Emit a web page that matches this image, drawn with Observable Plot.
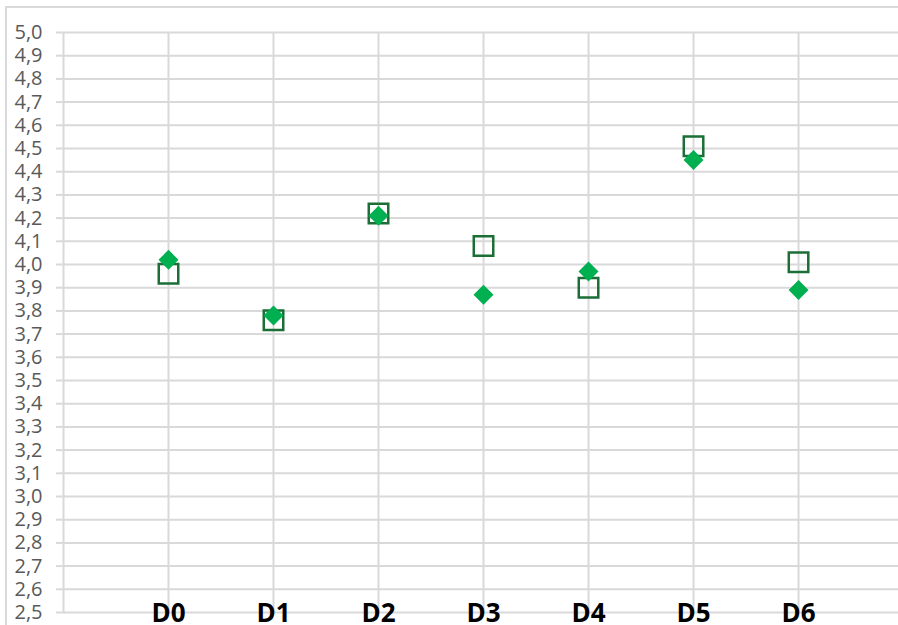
<!DOCTYPE html>
<html>
<head>
<meta charset="utf-8">
<script src="https://cdn.jsdelivr.net/npm/d3@7"></script>
<script src="https://cdn.jsdelivr.net/npm/@observablehq/plot@0.6"></script>
<style>
  html, body { margin: 0; padding: 0; background: #fff; overflow: hidden; }
  #wrap { position: relative; width: 898px; height: 625px; }
  #frame { position: absolute; left: 5px; top: 6px; width: 900px; height: 630px;
           border-left: 2px solid #d9d9d9; border-top: 2px solid #d9d9d9; box-sizing: border-box; }
  #chart { position: absolute; left: 0; top: 0; }
</style>
</head>
<body>
<div id="wrap"><div id="frame"></div><div id="chart"></div></div>
<script>
const categories = ["D0", "D1", "D2", "D3", "D4", "D5", "D6"];
const squareValues = [3.96, 3.76, 4.22, 4.08, 3.90, 4.51, 4.01];
const diamondValues = [4.02, 3.78, 4.21, 3.87, 3.97, 4.45, 3.89];
const yTicks = d3.range(25, 51).map(d => d / 10);
const xGrid = [0, 1, 2, 3, 4, 5, 6, 7];

const squares = categories.map((c, i) => ({pos: i + 1, value: squareValues[i]}));
const diamonds = categories.map((c, i) => ({pos: i + 1, value: diamondValues[i]}));
const labels = categories.map((c, i) => ({pos: i + 1, label: c}));

const fmt = d => d.toFixed(1).replace(".", ",");

const chart = Plot.plot({
  width: 898,
  height: 625,
  marginLeft: 63,
  marginRight: 0,
  marginTop: 32,
  marginBottom: 13,
  style: {fontFamily: "'Open Sans', sans-serif", background: "transparent", overflow: "visible"},
  x: {domain: [0, 7.952], axis: null},
  y: {domain: [2.5, 5.0], axis: null},
  marks: [
    Plot.ruleY(yTicks, {stroke: "#d9d9d9", strokeWidth: 2}),
    Plot.ruleX(xGrid, {stroke: "#d9d9d9", strokeWidth: 2}),
    Plot.axisY({ticks: yTicks, tickSize: 7, tickPadding: 14, tickFormat: fmt,
      stroke: "#d9d9d9", strokeWidth: 2, strokeOpacity: 1, fill: "#595959", fontSize: 20, label: null}),
    Plot.text(labels, {x: "pos", y: () => 2.5, text: "label", dy: 1, lineAnchor: "middle",
      fontSize: 26, fontWeight: "bold", fill: "#000"}),
    Plot.dot(squares, {x: "pos", y: "value", symbol: "square", r: 11,
      stroke: "#1b6e36", strokeWidth: 2.5, fill: "none"}),
    Plot.dot(diamonds, {x: "pos", y: "value", symbol: "diamond2", r: 9,
      fill: "#00b050", stroke: "none"})
  ]
});
document.getElementById("chart").appendChild(chart);
</script>
</body>
</html>
